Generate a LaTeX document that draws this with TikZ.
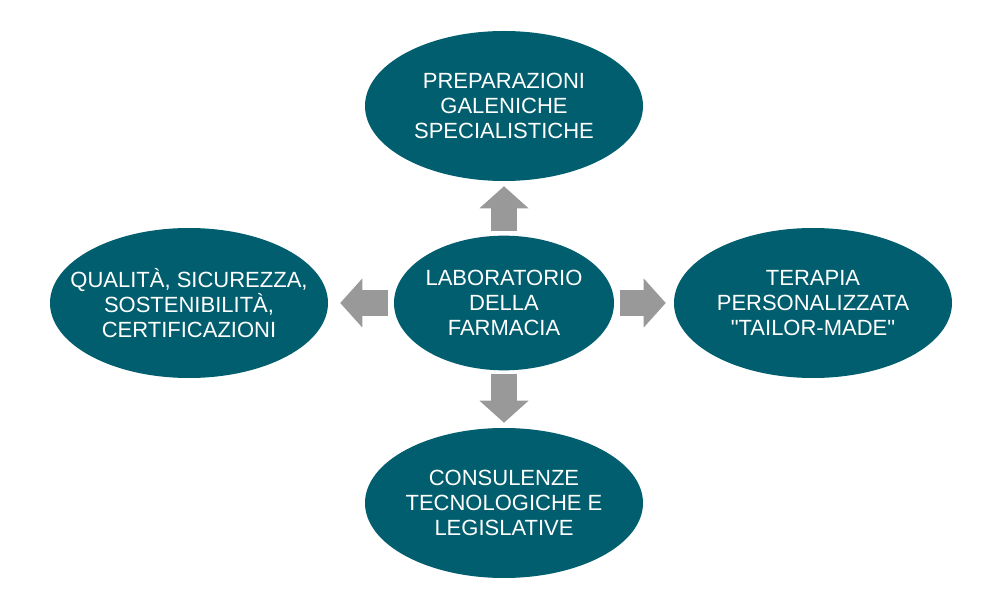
\documentclass[tikz,border=0pt]{standalone}
\usepackage{fontspec}
\newfontfamily\labfont{Liberation Sans}
\usepackage{tikz}
\usetikzlibrary{arrows.meta,shapes.geometric}
\definecolor{labteal}{RGB}{0,94,110}
\definecolor{arrowgray}{RGB}{153,153,153}

\begin{document}
\begin{tikzpicture}[
    x=0.75pt,y=-0.75pt,
    topic/.style={ellipse,fill=labteal,text=white,inner ysep=0pt,inner xsep=-20pt,
                  minimum width=208.5pt,minimum height=112.5pt,align=center,
                  font=\labfont\fontsize{16.5}{18.5}\selectfont},
    hub/.style={topic,minimum width=165pt,minimum height=101pt},
    fat/.style={draw=arrowgray,line width=19pt,
                -{Triangle[length=16.5pt,width=36.75pt,line width=0pt]}}
  ]
    \useasboundingbox (0,0) rectangle (1000,609);
    % Hub
    \node[hub] (lab) at (504,303) {LABORATORIO\\DELLA\\FARMACIA};
    % Topics around the hub
    \node[topic] (prep) at (504,106) {PREPARAZIONI\\GALENICHE\\SPECIALISTICHE};
    \node[topic] (qual) at (189,303) {QUALITÀ, SICUREZZA,\\SOSTENIBILITÀ,\\CERTIFICAZIONI};
    \node[topic] (ter)  at (813,303) {TERAPIA\\PERSONALIZZATA\\"TAILOR-MADE"};
    \node[topic] (cons) at (504,503) {CONSULENZE\\TECNOLOGICHE E\\LEGISLATIVE};

    % Arrows
    \draw[fat,shorten <=3pt,shorten >=3.75pt] (lab) -- (prep);
    \draw[fat,shorten <=2.25pt,shorten >=3.75pt] (lab) -- (cons);
    \draw[fat,shorten <=4.5pt,shorten >=9pt] (lab) -- (qual);
    \draw[fat,shorten <=4.5pt,shorten >=6pt] (lab) -- (ter);
  \end{tikzpicture}
\end{document}
